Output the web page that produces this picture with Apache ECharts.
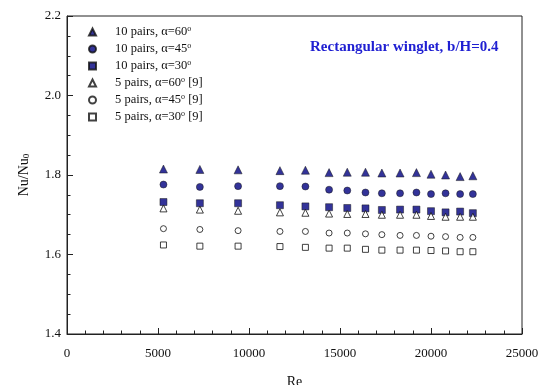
<!DOCTYPE html>
<html>
<head>
<meta charset="utf-8">
<script src="https://cdn.jsdelivr.net/npm/echarts@6/dist/echarts.min.js"></script>
<style>
  html, body { margin: 0; padding: 0; background: #fff; }
  #chart { width: 541px; height: 385px; }
</style>
</head>
<body>
<div id="chart"></div>
<script>
// Re 值（横轴）
const reValues = [5300, 7300, 9400, 11700, 13100, 14400, 15400, 16400, 17300, 18300, 19200, 20000, 20800, 21600, 22300];

// Nu/Nu0 各组数据
const pairs10a60 = [1.815, 1.814, 1.813, 1.811, 1.812, 1.806, 1.807, 1.807, 1.805, 1.805, 1.806, 1.802, 1.800, 1.796, 1.798];
const pairs10a45 = [1.776, 1.770, 1.772, 1.772, 1.771, 1.763, 1.761, 1.756, 1.754, 1.754, 1.756, 1.752, 1.754, 1.752, 1.752];
const pairs10a30 = [1.732, 1.729, 1.729, 1.724, 1.721, 1.719, 1.717, 1.716, 1.712, 1.713, 1.713, 1.709, 1.706, 1.708, 1.704];
const pairs5a60 = [1.716, 1.713, 1.710, 1.706, 1.705, 1.703, 1.702, 1.702, 1.700, 1.700, 1.700, 1.697, 1.695, 1.695, 1.695];
const pairs5a45 = [1.665, 1.663, 1.660, 1.658, 1.658, 1.654, 1.654, 1.652, 1.650, 1.648, 1.648, 1.646, 1.645, 1.643, 1.643];
const pairs5a30 = [1.624, 1.621, 1.621, 1.620, 1.618, 1.616, 1.616, 1.613, 1.611, 1.611, 1.611, 1.610, 1.609, 1.607, 1.607];

const seriesNames = [
  '10 pairs, α=60°',
  '10 pairs, α=45°',
  '10 pairs, α=30°',
  '5 pairs, α=60° [9]',
  '5 pairs, α=45° [9]',
  '5 pairs, α=30° [9]'
];

const FONT = 'Liberation Serif';
const NAVY = '#000080';

const chart = echarts.init(document.getElementById('chart'));

// 组装散点
const makeSeries = (name, values, symbol, size, filled) => ({
  name,
  type: 'scatter',
  symbol,
  symbolSize: size,
  data: reValues.map((re, i) => [re, values[i]]),
  itemStyle: filled
    ? { color: NAVY, borderColor: '#111', borderWidth: 0.6 }
    : { color: '#fff', borderColor: '#111', borderWidth: 1 },
  emphasis: { disabled: true }
});

const option = {
  animation: false,
  title: {
    text: 'Rectangular winglet, b/H=0.4',
    left: 305,
    top: 35,
    textStyle: { fontFamily: FONT, fontSize: 15, fontWeight: 'bold', color: '#1f1fd2' }
  },
  legend: {
    orient: 'vertical',
    left: 83,
    top: 20,
    itemWidth: 7,
    itemHeight: 7,
    itemGap: 3,
    data: seriesNames,
    formatter: name => name.replace('°', '{sup|o}'),
    textStyle: {
      fontFamily: FONT,
      fontSize: 12.5,
      color: '#111',
      lineHeight: 14,
      padding: [0, 0, 0, 14],
      rich: {
        sup: { fontFamily: FONT, fontSize: 8, color: '#111', verticalAlign: 'top', lineHeight: 8 }
      }
    }
  },
  grid: {
    left: 67,
    right: 19,
    top: 16,
    bottom: 51,
    outerBoundsMode: 'none',
    show: true,
    borderColor: '#222',
    borderWidth: 1
  },
  xAxis: {
    type: 'value',
    min: 0,
    max: 25000,
    interval: 5000,
    name: 'Re',
    nameLocation: 'middle',
    nameGap: 41,
    nameTextStyle: { fontFamily: FONT, fontSize: 14, color: '#111' },
    axisLine: { lineStyle: { color: '#222', width: 1 } },
    axisTick: { inside: true, length: 6, lineStyle: { color: '#222' } },
    minorTick: { show: true, splitNumber: 5, length: 3.5, lineStyle: { color: '#222' } },
    splitLine: { show: false },
    axisLabel: { fontFamily: FONT, fontSize: 13, color: '#111', margin: 13, formatter: v => String(v) }
  },
  yAxis: {
    type: 'value',
    min: 1.4,
    max: 2.2,
    interval: 0.2,
    name: 'Nu/Nu{sub|0}',
    nameLocation: 'middle',
    nameGap: 36,
    nameRotate: 90,
    nameTextStyle: {
      fontFamily: FONT,
      fontSize: 14,
      color: '#111',
      rich: { sub: { fontFamily: FONT, fontSize: 9, color: '#111', verticalAlign: 'bottom' } }
    },
    axisLine: { lineStyle: { color: '#222', width: 1 } },
    axisTick: { inside: true, length: 6, lineStyle: { color: '#222' } },
    minorTick: { show: true, splitNumber: 4, length: 3.5, lineStyle: { color: '#222' } },
    splitLine: { show: false },
    axisLabel: {
      fontFamily: FONT,
      fontSize: 13,
      color: '#111',
      margin: 6,
      formatter: v => v.toFixed(1)
    }
  },
  series: [
    makeSeries(seriesNames[0], pairs10a60, 'triangle', 8, true),
    makeSeries(seriesNames[1], pairs10a45, 'circle', 7, true),
    makeSeries(seriesNames[2], pairs10a30, 'rect', 7, true),
    makeSeries(seriesNames[3], pairs5a60, 'triangle', 7, false),
    makeSeries(seriesNames[4], pairs5a45, 'circle', 6, false),
    makeSeries(seriesNames[5], pairs5a30, 'rect', 6, false)
  ]
};

chart.setOption(option);
</script>
</body>
</html>
